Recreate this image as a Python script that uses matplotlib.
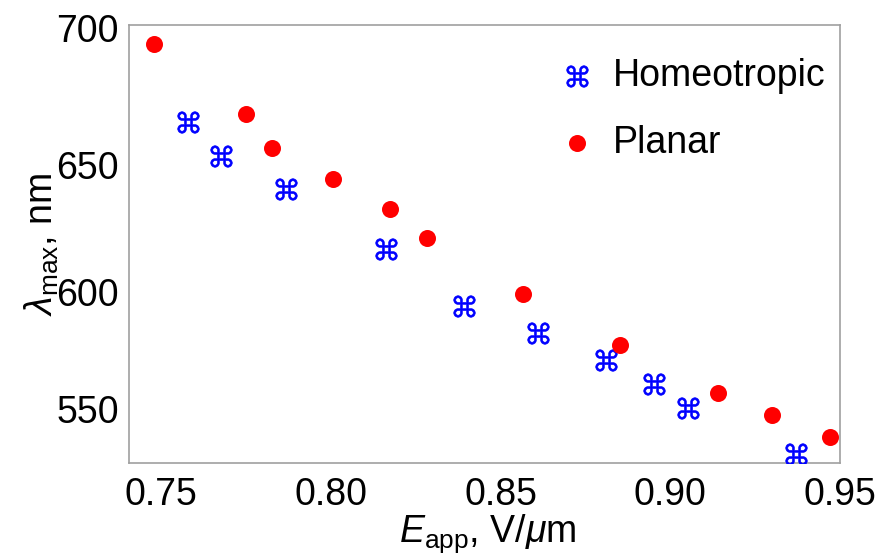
import numpy as np
import matplotlib
matplotlib.use("Agg")
import matplotlib.pyplot as plt
from matplotlib.textpath import TextPath
from matplotlib.font_manager import FontProperties
from matplotlib.transforms import Affine2D

# data (E_app in V/um, lambda_max in nm)
e_planar = [0.7479, 0.7749, 0.7825, 0.8005, 0.8174, 0.8283, 0.8566, 0.8853, 0.9140, 0.9299, 0.9472]
lam_planar = [694.1, 668.9, 656.4, 644.6, 633.0, 621.6, 599.2, 577.9, 557.0, 547.2, 537.3]

e_homeo = [0.7577, 0.7676, 0.7866, 0.8161, 0.8392, 0.8611, 0.8811, 0.8951, 0.9052, 0.9369]
lam_homeo = [666.0, 653.4, 640.9, 617.2, 594.2, 582.8, 571.5, 560.9, 550.6, 529.5]

x_ticks = [0.75, 0.80, 0.85, 0.90, 0.95]
y_ticks = [550, 600, 650, 700]

plt.rcParams['font.family'] = ['Liberation Sans', 'DejaVu Sans']
plt.rcParams['mathtext.fontset'] = 'custom'
plt.rcParams['mathtext.rm'] = 'Liberation Sans'
plt.rcParams['mathtext.it'] = 'Liberation Sans:italic'

# place-of-interest sign as a marker path
tp = TextPath((0, 0), '\u2318', prop=FontProperties(family='DejaVu Sans'))
ext = tp.get_extents()
cmd_marker = tp.transformed(Affine2D().translate(-(ext.x0 + ext.x1) / 2,
                                                 -(ext.y0 + ext.y1) / 2))

fig = plt.figure(figsize=(8.87, 5.57), dpi=100)
ax = fig.add_axes([0.1449, 0.1688, 0.8021, 0.7863])

ax.set_yscale('function', functions=(lambda v: np.asarray(v) ** 2,
                                     lambda v: np.sqrt(np.maximum(v, 0))))

ax.scatter(e_homeo, lam_homeo, marker=cmd_marker, s=420, color='#0000ff',
           edgecolors='#0000ff', linewidths=0.4, label='Homeotropic', zorder=3)
ax.scatter(e_planar, lam_planar, marker='o', s=150, color='#ff0000',
           linewidths=0, label='Planar', zorder=3)

ax.set_xlim(0.7403, 0.9497)
ax.set_ylim(525.3, 700.9)
ax.set_xticks(x_ticks)
ax.set_xticklabels([f'{v:.2f}' for v in x_ticks])
ax.set_yticks(y_ticks)
ax.set_yticklabels([str(v) for v in y_ticks])
ax.yaxis.set_minor_locator(matplotlib.ticker.NullLocator())
ax.tick_params(axis='both', length=0, labelsize=27)
ax.tick_params(axis='x', pad=10)
ax.tick_params(axis='y', pad=7)

for sp in ax.spines.values():
    sp.set_color('#a0a0a0')
    sp.set_linewidth(1.2)

ax.set_xlabel(r'$E_{\mathrm{app}}$, V/$\mathit{\mu}$m', fontsize=27)
ax.xaxis.set_label_coords(0.505, -0.112)
ax.set_ylabel(r'$\lambda_{\mathrm{max}}$, nm', fontsize=27)
ax.yaxis.set_label_coords(-0.095, 0.50)

ax.legend(loc='upper left', bbox_to_anchor=(0.578, 0.959), frameon=False,
          fontsize=27, handlelength=1.2, handletextpad=0.35,
          labelspacing=0.82, borderaxespad=0, scatterpoints=1)

fig.savefig('out.png', dpi=100)
